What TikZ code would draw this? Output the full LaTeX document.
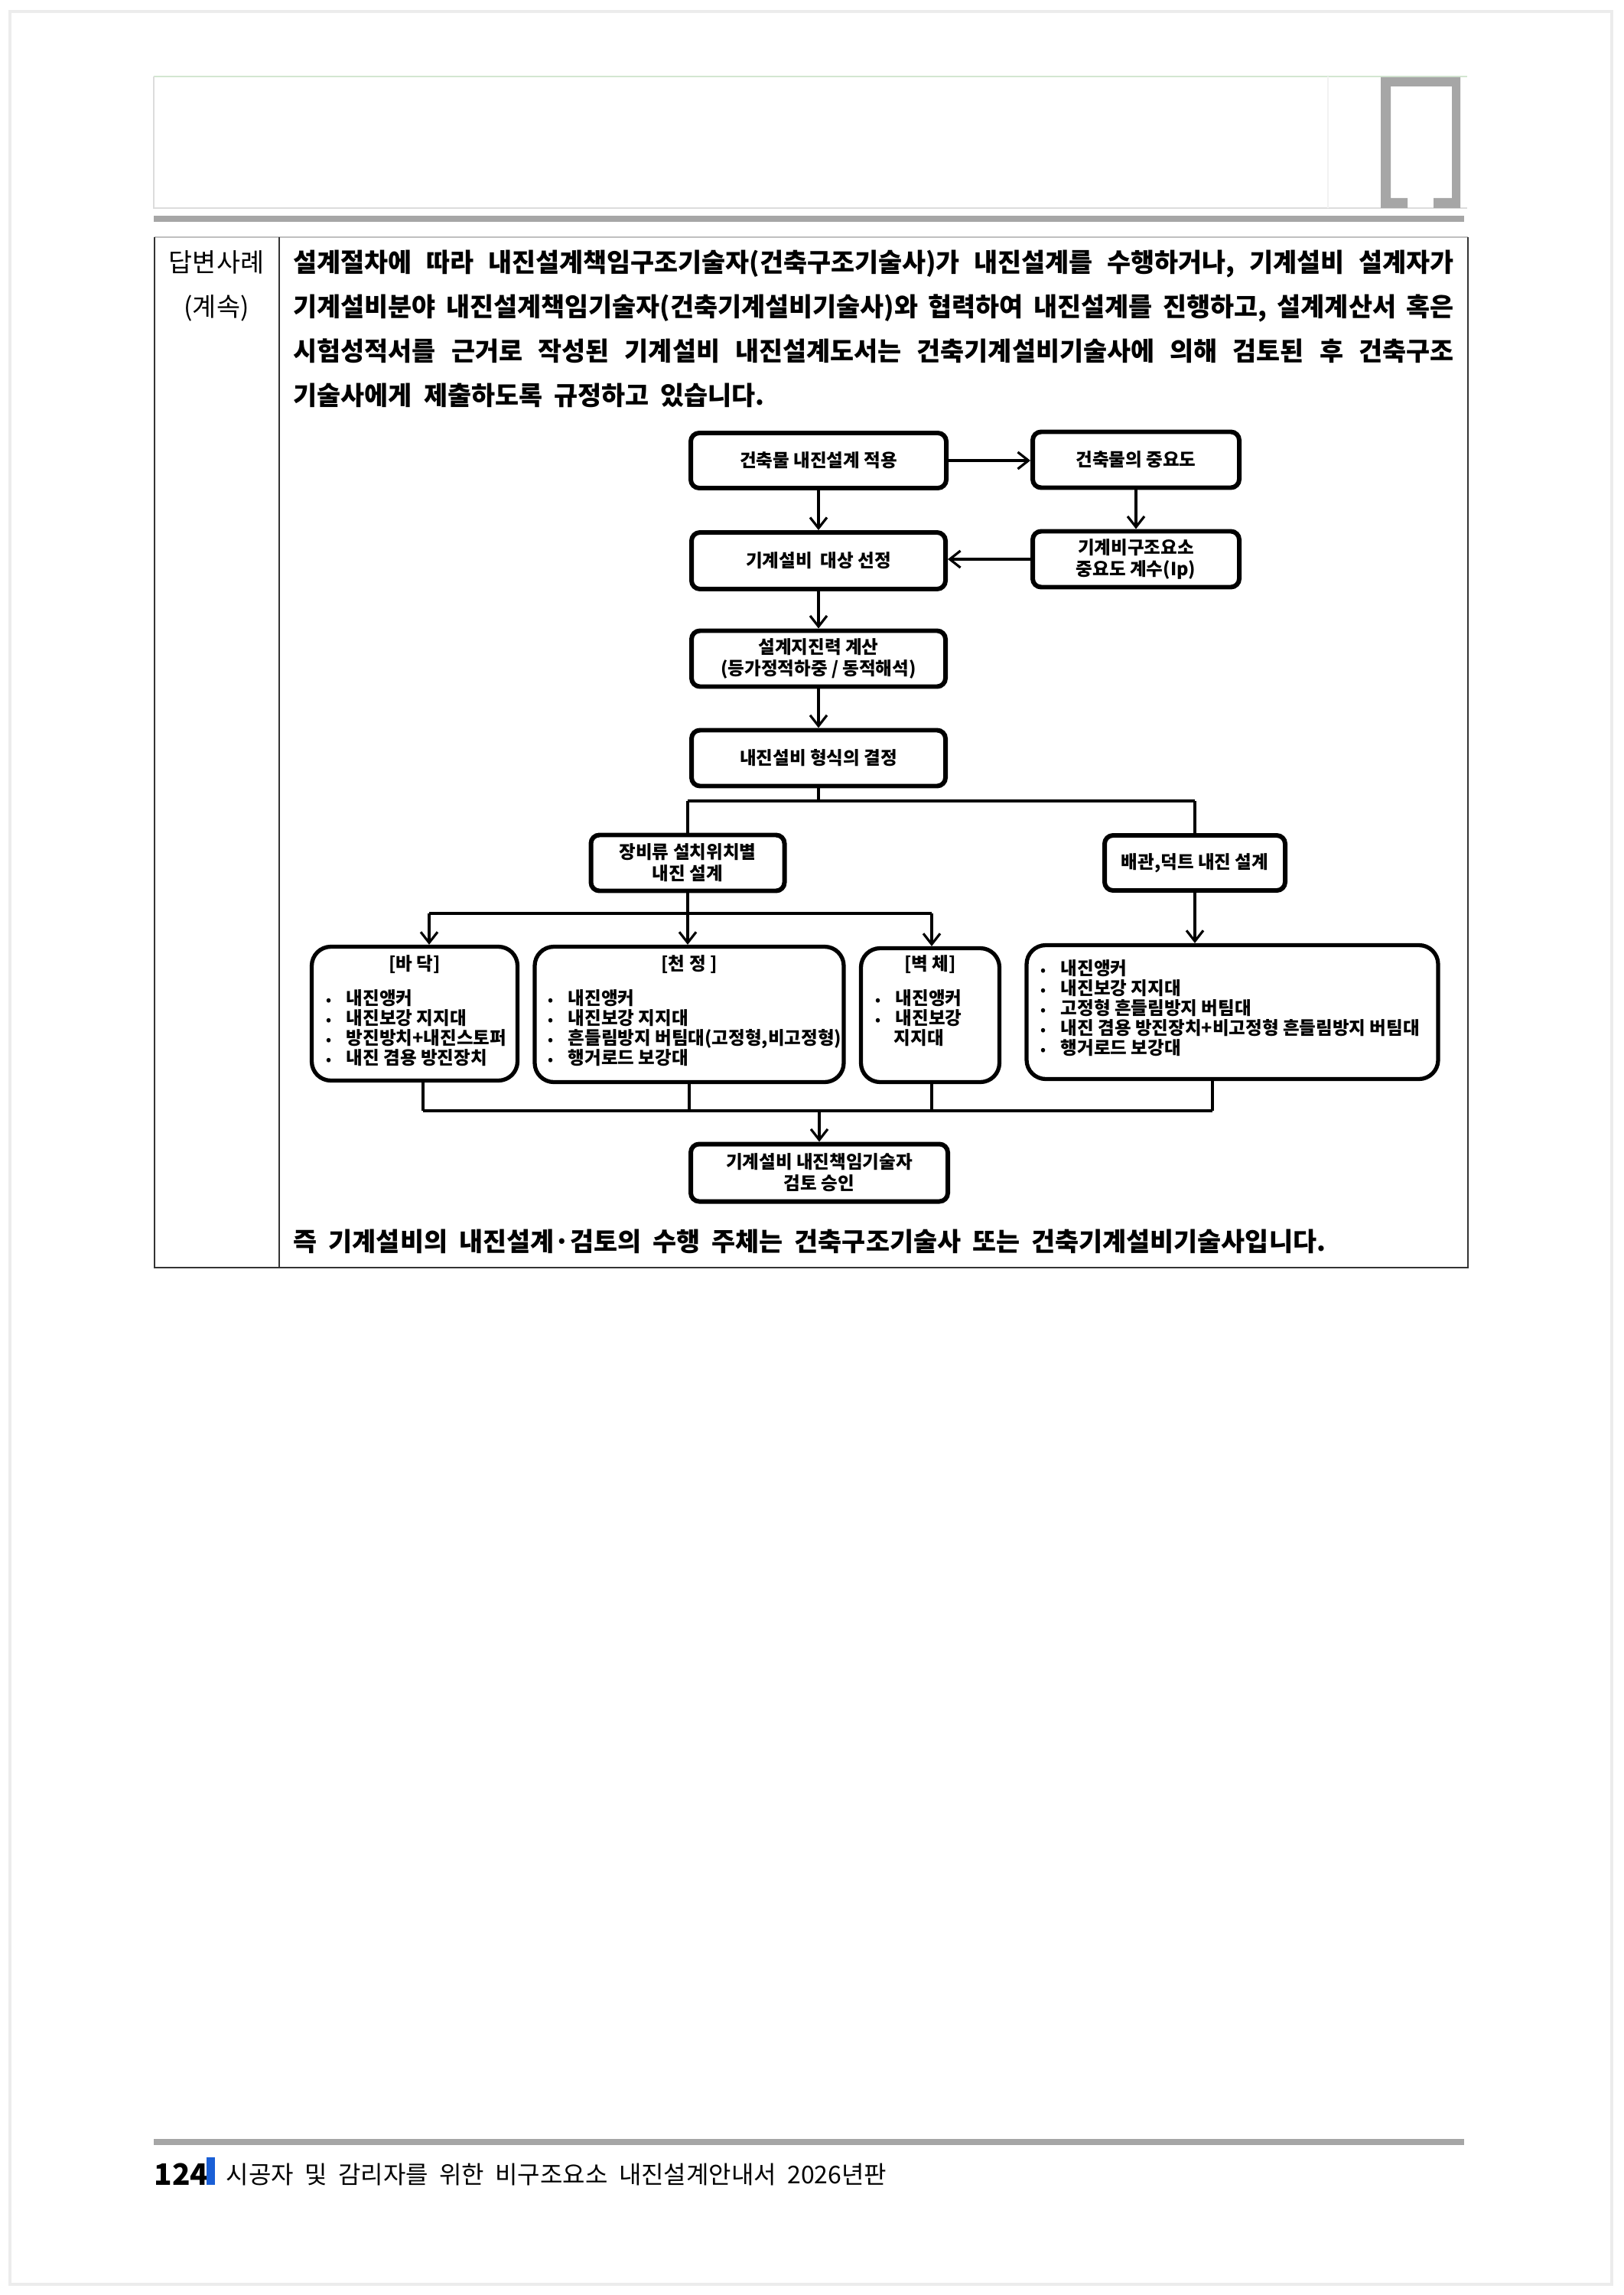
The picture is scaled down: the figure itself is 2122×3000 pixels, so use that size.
\documentclass[tikz,border=0pt]{standalone}
\usepackage{fontspec}
\setmainfont{Noto Sans CJK KR}
\usepackage{tikz}
\usetikzlibrary{arrows.meta}
\definecolor{barGray}{HTML}{A6A6A6}
\definecolor{lineGray}{HTML}{DCDCDC}
\definecolor{headGreen}{HTML}{D3E6D1}
\definecolor{pageBlue}{HTML}{1A5FD6}
\newcommand{\bodyfont}{\fontsize{9.6}{11}\selectfont\spaceskip=0.45em plus 0.3em minus 0.1em\relax}
\newcommand{\footfont}{\fontsize{9.1}{11}\selectfont\spaceskip=0.45em plus 0.3em minus 0.1em\relax}
\newcommand{\flowfont}{\fontsize{6.7}{8}\selectfont\bfseries}
\newcommand{\itm}[1]{\makebox[2.6mm][l]{{\fontsize{5}{5}\selectfont •}}#1}

\begin{document}
\begin{tikzpicture}[x=0.1mm,y=-0.1mm,
  box/.style={draw, line width=1.7pt, rounded corners=1.1mm, align=center, font=\flowfont, inner sep=0pt},
  bigbox/.style={draw, line width=1.5pt, rounded corners=2.5mm, inner sep=0pt},
  item/.style={anchor=west, inner sep=0pt, font=\flowfont, text height=1.7mm, text depth=0.5mm},
  wire/.style={line width=0.9pt},
  bus/.style={line width=1.4pt},
  arr/.style={line width=0.9pt, -{Straight Barb[length=1.4mm,width=2.2mm]}},
  txt/.style={anchor=base west, inner sep=0pt, font=\bodyfont\bfseries}]

\useasboundingbox (0,0) rectangle (2122,3000);
\fill[white] (0,0) rectangle (2122,3000);

%page
\draw[gray!15, line width=1.2pt] (13,15) rectangle (2107,2986);

%header
\draw[headGreen, line width=0.6pt] (201,100) -- (1918,100);
\draw[lineGray, line width=0.6pt] (201,100) -- (201,272) -- (1918,272);
\draw[gray!10, line width=0.4pt] (1736,100) -- (1736,272);
\fill[barGray] (1805,101) -- (1909,101) -- (1909,272) -- (1874,272) -- (1874,259) -- (1898,259)
  -- (1898,113) -- (1818,113) -- (1818,259) -- (1840,259) -- (1840,272) -- (1805,272) -- cycle;
\fill[barGray] (201,282) rectangle (1914,290);

%table
\draw[gray!50, line width=0.6pt] (202,310) -- (1919,310);
\draw[black!80, line width=0.7pt] (202,310) -- (202,1657) -- (1919,1657) -- (1919,310);
\draw[black!80, line width=0.7pt] (365,310) -- (365,1657);

\node[anchor=base, inner sep=0pt, font=\bodyfont] (q1) at (283,356) {답변사례};
\node[anchor=base, inner sep=0pt, font=\bodyfont] (q2) at (283,414) {(계속)};

\node[txt] (p1) at (383,356) {\makebox[151.7mm][s]{설계절차에 따라 내진설계책임구조기술자(건축구조기술사)가 내진설계를 수행하거나, 기계설비 설계자가}};
\node[txt] (p2) at (383,414) {\makebox[151.7mm][s]{기계설비분야 내진설계책임기술자(건축기계설비기술사)와 협력하여 내진설계를 진행하고, 설계계산서 혹은}};
\node[txt] (p3) at (383,472) {\makebox[151.7mm][s]{시험성적서를 근거로 작성된 기계설비 내진설계도서는 건축기계설비기술사에 의해 검토된 후 건축구조}};
\node[txt] (p4) at (383,530) {기술사에게 제출하도록 규정하고 있습니다.};

%flow boxes
\node[box, minimum width=33.4mm, minimum height=7.2mm] (A) at (1070,602) {건축물 내진설계 적용};
\node[box, minimum width=27.0mm, minimum height=7.3mm] (B) at (1485,601) {건축물의 중요도};
\node[box, minimum width=33.2mm, minimum height=7.4mm] (C) at (1070,733) {기계설비 \ 대상 선정};
\node[box, minimum width=27.0mm, minimum height=7.3mm] (D) at (1485,731) {기계비구조요소\\중요도 계수(Ip)};
\node[box, minimum width=33.2mm, minimum height=7.3mm] (E) at (1070,861) {설계지진력 계산\\(등가정적하중 / 동적해석)};
\node[box, minimum width=33.2mm, minimum height=7.3mm] (F) at (1070,991) {내진설비 형식의 결정};
\node[box, minimum width=25.3mm, minimum height=7.3mm] (G) at (899,1128) {장비류 설치위치별\\내진 설계};
\node[box, minimum width=23.6mm, minimum height=7.2mm] (H) at (1562,1128) {배관,덕트 내진 설계};

%I J K L
\node[bigbox, minimum width=26.9mm, minimum height=17.5mm] (I) at (542,1325) {};
\node[bigbox, minimum width=40.4mm, minimum height=17.7mm] (J) at (901,1326) {};
\node[bigbox, minimum width=18.1mm, minimum height=17.5mm] (K) at (1216,1327) {};
\node[bigbox, minimum width=53.8mm, minimum height=17.5mm] (L) at (1611,1323) {};

\node[box, minimum width=33.6mm, minimum height=7.5mm] (M) at (1071,1533) {기계설비 내진책임기술자\\검토 승인};

%titles
\node[font=\flowfont, inner sep=0pt] (ti) at (542,1261) {[바 닥]};
\node[font=\flowfont, inner sep=0pt] (tj) at (901,1261) {[천 정 ]};
\node[font=\flowfont, inner sep=0pt] (tk) at (1216,1261) {[벽 체]};

%lists
\foreach \t [count=\i from 0] in {내진앵커, 내진보강 지지대, 방진방치+내진스토퍼, 내진 겸용 방진장치}
  \node[item] (ia\i) at (426,1307+26*\i) {\itm{\t}};
\foreach \t [count=\i from 0] in {내진앵커, 내진보강 지지대, {흔들림방지 버팀대(고정형,비고정형)}, 행거로드 보강대}
  \node[item] (ja\i) at (716,1307+26*\i) {\itm{\t}};
\foreach \t [count=\i from 0] in {내진앵커, 내진보강}
  \node[item] (ka\i) at (1144,1307+26*\i) {\itm{\t}};
\node[item] (ka2) at (1144,1359) {\makebox[2.4mm]{}지지대};
\foreach \t [count=\i from 0] in {내진앵커, 내진보강 지지대, 고정형 흔들림방지 버팀대, 내진 겸용 방진장치+비고정형 흔들림방지 버팀대, 행거로드 보강대}
  \node[item] (la\i) at (1360,1268+26*\i) {\itm{\t}};

%arrows
\draw[arr] (A.east) -- (A.east -| B.west);
\draw[arr] (A.south) -- (C.north);
\draw[arr] (B.south) -- (D.north);
\draw[arr] (D.west) -- (D.west -| C.east);
\draw[arr] (C.south) -- (E.north);
\draw[arr] (E.south) -- (F.north);

%bus 1
\coordinate (s1) at (899,1047);
\coordinate (s2) at (1562,1047);
\draw[wire] (F.south) -- (F.south |- s1);
\draw[bus] (s1) -- (s2);
\draw[wire] (s1) -- (G.north);
\draw[wire] (s2) -- (H.north);

%bus 2
\coordinate (s3) at (561,1194);
\coordinate (s4) at (1218,1194);
\draw[wire] (G.south) -- (G.south |- s3);
\draw[bus] (s3) -- (s4);
\draw[arr] (s3) -- (s3 |- I.north);
\draw[arr] (G.south |- s3) -- (G.south |- J.north);
\draw[arr] (s4) -- (s4 |- K.north);
\draw[arr] (H.south) -- (H.south |- L.north);

%bus 3
\coordinate (s5) at (553,1452);
\coordinate (s6) at (1585,1452);
\draw[wire] (s5 |- I.south) -- (s5);
\draw[wire] (J.south) -- (J.south |- s5);
\draw[wire] (s4 |- K.south) -- (s4 |- s5);
\draw[wire] (s6 |- L.south) -- (s6);
\draw[bus] (s5) -- (s6);
\draw[arr] (M.north |- s5) -- (M.north);

\node[txt] (p5) at (383,1635) {즉 기계설비의 내진설계·검토의 수행 주체는 건축구조기술사 또는 건축기계설비기술사입니다.};

%footer
\fill[barGray] (201,2796) rectangle (1914,2804);
\node[anchor=base west, inner sep=0pt, font=\fontsize{11}{13}\selectfont\bfseries] (pg) at (201,2856) {124};
\fill[pageBlue] (270,2820) rectangle (281,2856);
\node[anchor=base west, inner sep=0pt, font=\footfont] (ft) at (295,2854) {시공자 및 감리자를 위한 비구조요소 내진설계안내서 2026년판};

\end{tikzpicture}
\end{document}
